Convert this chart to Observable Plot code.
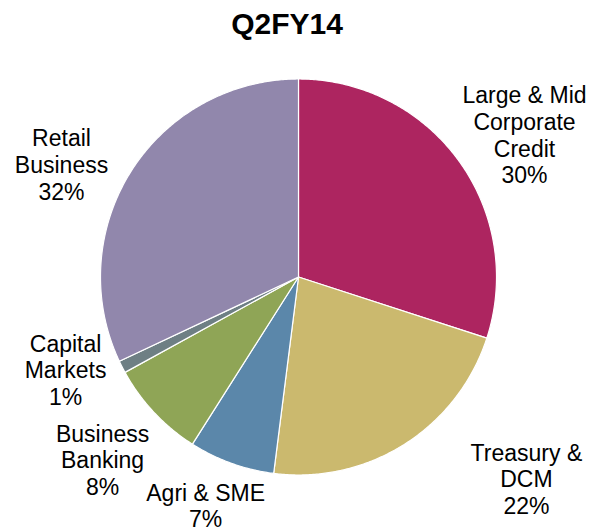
<!DOCTYPE html>
<html><head><meta charset="utf-8">
<script src="https://cdn.jsdelivr.net/npm/d3@7"></script>
<script src="https://cdn.jsdelivr.net/npm/@observablehq/plot@0.6"></script>
<style>body{margin:0;background:#fff}</style>
</head><body><div id="chart"></div>
<script>
// ---- data ----
const title = "Q2FY14";
const segments = ["Large & Mid\nCorporate\nCredit", "Treasury &\nDCM", "Agri & SME", "Business\nBanking", "Capital\nMarkets", "Retail\nBusiness"];
const shares = [30, 22, 7, 8, 1, 32];
const colors = ["#AD2560", "#CBB96E", "#5B87AA", "#8FA556", "#6E7F84", "#9187AC"];

// ---- layout (label placement relative to slice mid-angle, in degrees / radius units) ----
const labelAngleShift = [3.8, -16.1, 2.3, 0.2, 5.3, -7.0];
const labelRadius = [1.349, 1.537, 1.246, 1.353, 1.266, 1.325];

const W = 593, H = 532, CX = 298, CY = 276.5, R = 198;
const font = "Arial, 'Liberation Sans', sans-serif";

const arcs = d3.pie().sort(null).value(d => d)(shares);

const sliceMarks = arcs.map((a, i) => {
  const n = Math.max(4, Math.ceil((a.endAngle - a.startAngle) / (Math.PI / 360)));
  const pts = [{x: 0, y: 0}];
  for (let k = 0; k <= n; k++) {
    const t = a.startAngle + (a.endAngle - a.startAngle) * k / n;
    pts.push({x: Math.sin(t), y: Math.cos(t)});
  }
  return Plot.line(pts, {x: "x", y: "y", curve: "linear-closed", fill: colors[i], stroke: "white", strokeWidth: 1.2, strokeLinejoin: "round"});
});

const labels = arcs.map((a, i) => {
  const mid = (a.startAngle + a.endAngle) / 2 + labelAngleShift[i] * Math.PI / 180;
  return {
    x: Math.sin(mid) * labelRadius[i],
    y: Math.cos(mid) * labelRadius[i],
    text: segments[i] + "\n" + shares[i] + "%"
  };
});

const chart = Plot.plot({
  width: W, height: H, margin: 0,
  x: {domain: [-CX / R, (W - CX) / R], axis: null},
  y: {domain: [-(H - CY) / R, CY / R], axis: null},
  style: {background: "white", fontFamily: font},
  marks: [
    ...sliceMarks,
    Plot.text(labels, {x: "x", y: "y", text: "text", fontSize: 23, lineHeight: 1.16, fill: "#000", fontFamily: font}),
    Plot.text([title], {frameAnchor: "top", dx: -10, dy: 12, lineAnchor: "top", fontSize: 30, fontWeight: "bold", fill: "#000", fontFamily: font})
  ]
});
document.getElementById("chart").append(chart);
</script>
</body></html>
